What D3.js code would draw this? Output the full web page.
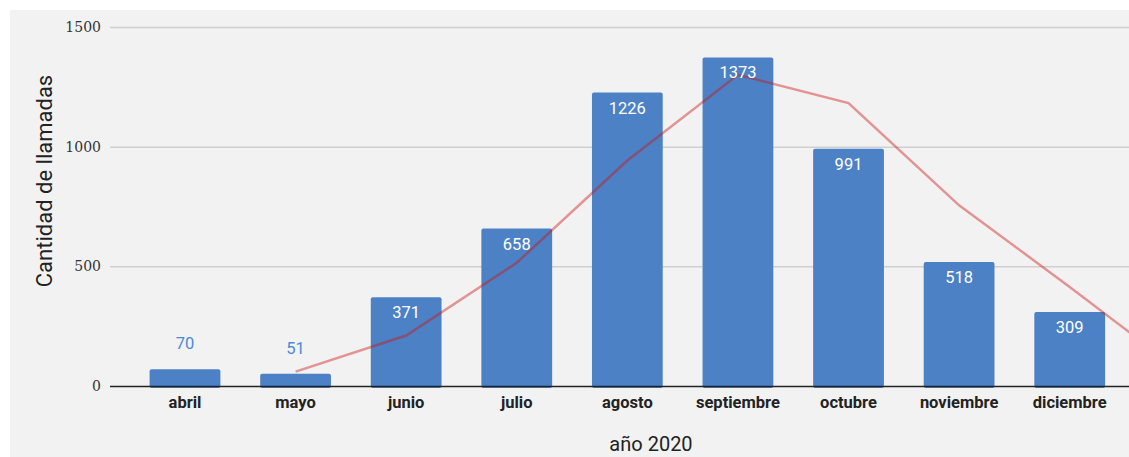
<!DOCTYPE html>
<html>
<head>
<meta charset="utf-8">
<script src="https://cdn.jsdelivr.net/npm/d3@7"></script>
<style>
  html, body { margin: 0; padding: 0; background: #fff; }
  svg { display: block; }
</style>
</head>
<body>
<svg id="chart"></svg>
<script>
const months = ['abril', 'mayo', 'junio', 'julio', 'agosto', 'septiembre', 'octubre', 'noviembre', 'diciembre'];
const calls = [70, 51, 371, 658, 1226, 1373, 991, 518, 309];
// trend line (last point lies past the right edge)
const trend = [null, 60, 211, 515, 942, 1300, 1182, 755, 414, 63];
const yTicks = [0, 500, 1000, 1500];

const width = 1129, height = 457;
const svg = d3.select('#chart').attr('width', width).attr('height', height);

svg.append('rect')
  .attr('x', 10).attr('y', 10)
  .attr('width', width - 10).attr('height', height - 10)
  .attr('fill', '#f2f2f2');

const x = d3.scaleBand()
  .domain(months)
  .range([129.7, 1125])
  .paddingInner(0.36)
  .paddingOuter(0.18);

const y = d3.scaleLinear()
  .domain([0, 1500])
  .range([386, 27]);

// grid lines
svg.append('g')
  .selectAll('line')
  .data(yTicks.filter(d => d > 0))
  .enter()
  .append('line')
  .attr('x1', 110).attr('x2', width)
  .attr('y1', d => y(d) + 0.5).attr('y2', d => y(d) + 0.5)
  .attr('stroke', '#cfcfcf')
  .attr('stroke-width', 1.5);

// y axis labels
svg.append('g')
  .selectAll('text')
  .data(yTicks)
  .enter()
  .append('text')
  .attr('x', 101)
  .attr('y', d => y(d))
  .attr('dy', '0.35em')
  .attr('text-anchor', 'end')
  .attr('font-family', 'Georgia, "DejaVu Serif", serif')
  .attr('font-size', 14)
  .attr('fill', '#333')
  .text(d => d);

// bars
svg.append('g')
  .selectAll('rect')
  .data(calls)
  .enter()
  .append('rect')
  .attr('x', (d, i) => x(months[i]))
  .attr('y', d => y(d))
  .attr('width', x.bandwidth())
  .attr('height', d => y(0) - y(d) + 2)
  .attr('rx', 2)
  .attr('fill', '#4d81c5');

// baseline
svg.append('line')
  .attr('x1', 110).attr('x2', width)
  .attr('y1', y(0) + 0.5).attr('y2', y(0) + 0.5)
  .attr('stroke', '#222')
  .attr('stroke-width', 1.5);

// trend line
const cx = i => x(months[0]) + x.bandwidth() / 2 + i * x.step();
const line = d3.line()
  .defined(d => d != null)
  .x((d, i) => cx(i))
  .y(d => y(d));

svg.append('path')
  .datum(trend)
  .attr('d', line)
  .attr('fill', 'none')
  .attr('stroke', '#cc1111')
  .attr('stroke-opacity', 0.42)
  .attr('stroke-width', 2.5);

// value labels
svg.append('g')
  .selectAll('text')
  .data(calls)
  .enter()
  .append('text')
  .attr('x', (d, i) => x(months[i]) + x.bandwidth() / 2)
  .attr('y', d => (y(0) - y(d) > 30 ? y(d) + 21 : y(d) - 20))
  .attr('text-anchor', 'middle')
  .attr('font-family', 'Roboto, sans-serif')
  .attr('font-size', 16.5)
  .attr('fill', d => (y(0) - y(d) > 30 ? '#fff' : '#4a8ad6'))
  .text(d => d);

// x labels
svg.append('g')
  .selectAll('text')
  .data(months)
  .enter()
  .append('text')
  .attr('x', d => x(d) + x.bandwidth() / 2)
  .attr('y', 408)
  .attr('text-anchor', 'middle')
  .attr('font-family', 'Roboto, sans-serif')
  .attr('font-weight', 'bold')
  .attr('font-size', 16.5)
  .attr('fill', '#222')
  .text(d => d);

// axis titles
svg.append('text')
  .attr('transform', 'translate(52,181) rotate(-90)')
  .attr('text-anchor', 'middle')
  .attr('font-family', 'Roboto, sans-serif')
  .attr('font-size', 22)
  .attr('fill', '#222')
  .text('Cantidad de llamadas');

svg.append('text')
  .attr('x', 651)
  .attr('y', 451)
  .attr('text-anchor', 'middle')
  .attr('font-family', 'Roboto, sans-serif')
  .attr('font-size', 20)
  .attr('fill', '#222')
  .text('año 2020');
</script>
</body>
</html>
